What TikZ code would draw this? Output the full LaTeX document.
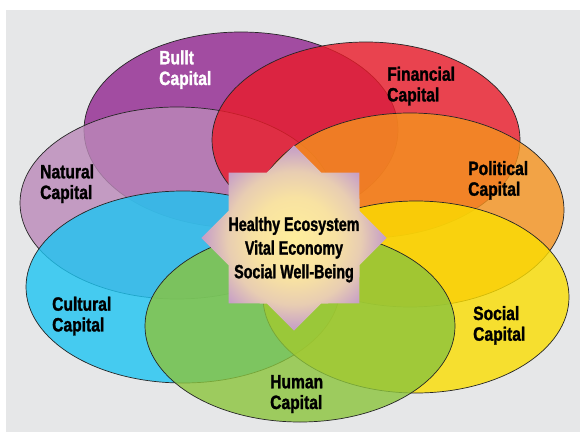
\documentclass[tikz,border=0pt]{standalone}
\usepackage{fontspec}
\newfontfamily\lblfont{Liberation Sans}[FakeStretch=0.81, BoldFeatures={FakeBold=1.4}]
\newfontfamily\hubfont{Liberation Sans}[FakeStretch=0.74, BoldFeatures={FakeBold=1.4}]
\usepackage{tikz}
\definecolor{panelgray}{HTML}{E6E7E8}
\definecolor{builtcol}{HTML}{912690}
\definecolor{naturalcol}{HTML}{BB89B9}
\definecolor{financecol}{HTML}{EA1B29}
\definecolor{politicol}{HTML}{F5931E}
\definecolor{culturecol}{HTML}{1DC5F2}
\definecolor{socialcol}{HTML}{FBDE01}
\definecolor{humancol}{HTML}{8BC43C}
\definecolor{starglow}{HTML}{FFEE9C}
\definecolor{starwarm}{HTML}{F8E2A2}
\definecolor{starmid}{HTML}{E8CDB2}
\definecolor{starrim}{HTML}{C49CC8}
\pgfdeclareradialshading{starshade}{\pgfpoint{0bp}{0bp}}{color(0bp)=(starglow); color(11bp)=(starwarm); color(18bp)=(starmid); color(25bp)=(starrim); color(50bp)=(starrim)}

\begin{document}
\begin{tikzpicture}[x=1pt,y=-1pt,
    ring/.style={draw=black!85, line width=0.7pt, fill opacity=0.8},
    lbl/.style={font=\lblfont\bfseries\fontsize{19.3}{20.7}\selectfont, align=left, anchor=base west, inner sep=0pt},
    hub/.style={font=\hubfont\bfseries\fontsize{19.3}{23.7}\selectfont, align=center, anchor=base, inner sep=0pt}]
                % Background Panel
                \useasboundingbox (0,0) rectangle (580,433);
                \fill[white] (0,0) rectangle (580,433);
                \fill[panelgray] (6,10) rectangle (580,432);

                % Capital Rings
                \draw[ring, fill=builtcol] (241,130) ellipse [x radius=157, y radius=98];
                \draw[ring, fill=naturalcol] (177,203) ellipse [x radius=157, y radius=96];
                \draw[ring, fill=financecol] (366,140) ellipse [x radius=154, y radius=98];
                \draw[ring, fill=politicol] (410,210) ellipse [x radius=154, y radius=97];
                \draw[ring, fill=culturecol] (183,287) ellipse [x radius=157, y radius=96];
                \draw[ring, fill=socialcol] (416,297) ellipse [x radius=153, y radius=96];
                \draw[ring, fill=humancol] (300,326) ellipse [x radius=155, y radius=96];

                % Central Star
                \begin{scope}[shift={(294,238)}]
                    \shade[shading=starshade] (0:92.6)
                        \foreach \a in {0,45,...,315} { -- (\a:92.6) -- (\a+22.5:70.9) } -- cycle;
                \end{scope}
                \node[hub] (hub) at (294,278.3) {Healthy Ecosystem\\Vital Economy\\Social Well-Being};

                % Ring Labels (anchored at the second line)
                \node[lbl, white] (built) at (159,85) {Bullt\\Capital};
                \node[lbl] (financial) at (387,101.4) {Financial\\Capital};
                \node[lbl] (natural) at (40,199) {Natural\\Capital};
                \node[lbl] (political) at (468,195.7) {Political\\Capital};
                \node[lbl] (cultural) at (52,331.4) {Cultural\\Capital};
                \node[lbl] (social) at (473,340.7) {Social\\Capital};
                \node[lbl] (human) at (270,409) {Human\\Capital};
\end{tikzpicture}
\end{document}
